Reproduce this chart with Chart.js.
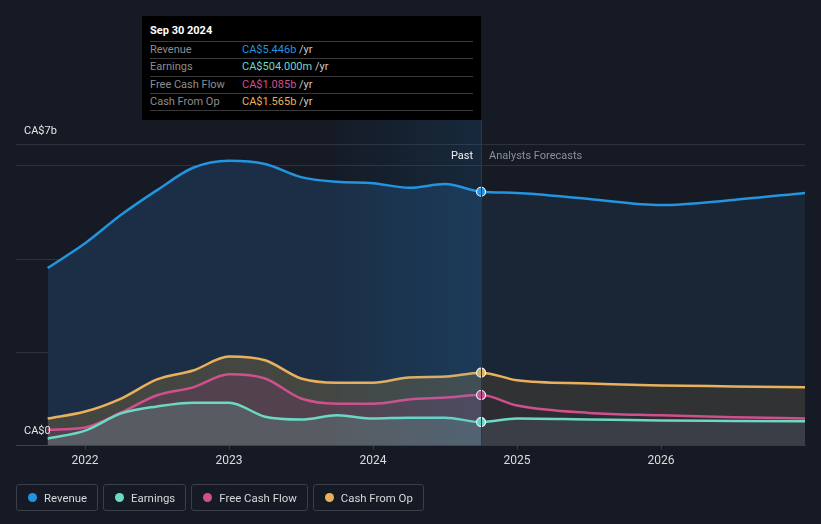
<!DOCTYPE html>
<html>
<head>
<meta charset="utf-8">
<script src="https://cdn.jsdelivr.net/npm/chart.js@4.4.1/dist/chart.umd.min.js"></script>
<style>
    html, body { margin: 0; padding: 0; background: #151a24; }
    body { width: 821px; height: 524px; position: relative; overflow: hidden; font-family: Roboto, "Noto Sans", sans-serif; }
    #chart { position: absolute; left: 0; top: 0; }
    .tip { position: absolute; left: 142px; top: 16px; width: 339px; height: 104px; background: #000; }
    .tip .title { position: absolute; left: 8px; top: 8px; font-size: 11px; font-weight: bold; color: #fff; }
    .tip .row { position: absolute; left: 8px; width: 323px; height: 17px; border-top: 1px solid #3a3a3a; font-size: 11px; line-height: 16px; color: #8d8d8d; }
    .tip .row .v { position: absolute; left: 92px; }
    .tip .row .u { color: #c8c8c8; }
    .tip .last { position: absolute; left: 8px; width: 323px; top: 94px; border-top: 1px solid #3a3a3a; }
    .legend { position: absolute; top: 484px; left: 16px; display: flex; gap: 5px; }
    .legend .item { height: 27px; border: 1px solid #3a3f49; border-radius: 3px; box-sizing: border-box; padding: 0 10px 0 11px; display: flex; align-items: center; font-size: 11.4px; color: #d6d8dc; }
    .legend .dot { width: 9px; height: 9px; border-radius: 50%; margin-right: 7px; }
</style>
</head>
<body>
<canvas id="chart" width="821" height="524"></canvas>

<div class="tip">
    <div class="title">Sep 30 2024</div>
    <div class="row" style="top:25px">Revenue<span class="v"><span style="color:#2394df">CA$5.446b</span> <span class="u">/yr</span></span></div>
    <div class="row" style="top:42px">Earnings<span class="v"><span style="color:#6cd9c5">CA$504.000m</span> <span class="u">/yr</span></span></div>
    <div class="row" style="top:60px">Free Cash Flow<span class="v"><span style="color:#d0508c">CA$1.085b</span> <span class="u">/yr</span></span></div>
    <div class="row" style="top:77px">Cash From Op<span class="v"><span style="color:#e9b15c">CA$1.565b</span> <span class="u">/yr</span></span></div>
    <div class="last"></div>
</div>

<div class="legend">
    <div class="item"><span class="dot" style="background:#2394df"></span>Revenue</div>
    <div class="item"><span class="dot" style="background:#6cd9c5"></span>Earnings</div>
    <div class="item"><span class="dot" style="background:#d0508c"></span>Free Cash Flow</div>
    <div class="item"><span class="dot" style="background:#e9b15c"></span>Cash From Op</div>
</div>

<script>
// fractional years, CA$ billions
const years = [2021.74, 2022.0, 2022.25, 2022.5, 2022.75, 2023.0, 2023.25, 2023.5, 2023.75,
    2024.0, 2024.25, 2024.5, 2024.75, 2025.0, 2025.5, 2026.0, 2026.5, 2027.0];
const revenue = [3.81, 4.34, 4.95, 5.48, 5.96, 6.11, 6.04, 5.76, 5.66,
    5.63, 5.53, 5.61, 5.446, 5.42, 5.29, 5.16, 5.27, 5.42];
const earnings = [0.15, 0.32, 0.69, 0.84, 0.92, 0.92, 0.62, 0.56, 0.65,
    0.58, 0.60, 0.60, 0.504, 0.58, 0.56, 0.54, 0.53, 0.52];
const freeCashFlow = [0.34, 0.39, 0.71, 1.08, 1.25, 1.53, 1.44, 1.01, 0.90,
    0.90, 0.99, 1.03, 1.085, 0.86, 0.70, 0.65, 0.61, 0.58];
const cashFromOp = [0.58, 0.73, 1.01, 1.42, 1.61, 1.91, 1.83, 1.44, 1.35,
    1.35, 1.46, 1.48, 1.565, 1.40, 1.33, 1.29, 1.27, 1.25];
const yearTicks = [2022, 2023, 2024, 2025, 2026];
const yLabels = ["CA$0", "CA$7b"];
const NOW = 2024.75;
const BAND_START = 2023.75;

function toPoints(values) {
    return values.map((v, i) => ({ x: years[i], y: v }));
}

// fill colour that switches from past to forecast at NOW
function splitFill(past, future) {
    return (context) => {
        const chart = context.chart;
        const area = chart.chartArea;
        if (!area || !chart.scales.x) return past;
        const px = chart.scales.x.getPixelForValue(NOW);
        const t = Math.min(1, Math.max(0, (px - area.left) / (area.right - area.left)));
        const g = chart.ctx.createLinearGradient(area.left, 0, area.right, 0);
        g.addColorStop(0, past);
        g.addColorStop(t, past);
        g.addColorStop(t, future);
        g.addColorStop(1, future);
        return g;
    };
}

function series(label, values, color, past, future, order) {
    return {
        label: label,
        data: toPoints(values),
        borderColor: color,
        borderWidth: 2.5,
        backgroundColor: splitFill(past, future),
        fill: "origin",
        cubicInterpolationMode: "monotone",
        order: order,
        pointRadius: (c) => (c.raw && c.raw.x === NOW ? 4.5 : 0),
        pointHoverRadius: 0,
        pointBackgroundColor: color,
        pointBorderColor: "#ffffff",
        pointBorderWidth: 1.2,
    };
}

const overlay = {
    id: "overlay",
    afterDatasetsDraw(chart) {
        const { ctx, chartArea, scales } = chart;
        const x0 = scales.x.getPixelForValue(BAND_START);
        const x1 = scales.x.getPixelForValue(NOW);
        const top = 120;
        const g = ctx.createLinearGradient(x0, 0, x1, 0);
        g.addColorStop(0, "rgba(35,150,230,0.015)");
        g.addColorStop(1, "rgba(35,150,230,0.12)");
        ctx.save();
        ctx.fillStyle = g;
        ctx.fillRect(x0, top, x1 - x0, chartArea.bottom - top);
        ctx.strokeStyle = "#1e3b55";
        ctx.lineWidth = 1;
        ctx.beginPath();
        ctx.moveTo(Math.round(x1) + 0.5, top);
        ctx.lineTo(Math.round(x1) + 0.5, chartArea.bottom);
        ctx.stroke();
        ctx.restore();
    },
    afterDraw(chart) {
        const { ctx, chartArea, scales } = chart;
        const x1 = scales.x.getPixelForValue(NOW);
        ctx.save();
        ctx.font = "11px Roboto, 'Noto Sans', sans-serif";
        ctx.textBaseline = "middle";
        ctx.fillStyle = "#f0f0f0";
        ctx.textAlign = "right";
        ctx.fillText("Past", x1 - 8, chartArea.top + 12);
        ctx.fillStyle = "#8b9099";
        ctx.textAlign = "left";
        ctx.fillText("Analysts Forecasts", x1 + 8, chartArea.top + 12);
        ctx.fillStyle = "#e6e6e6";
        ctx.fillText(yLabels[1], 24, 131);
        ctx.fillText(yLabels[0], 24, 431);
        ctx.restore();
    },
};

const config = {
    type: "line",
    data: {
        datasets: [
            series("Earnings", earnings, "#6cd9c5", "#585c62", "#3a3e47", 1),
            series("Free Cash Flow", freeCashFlow, "#d0508c", "#52424e", "#2d2c32", 2),
            series("Cash From Op", cashFromOp, "#e9b15c", "#444642", "#303234", 3),
            series("Revenue", revenue, "#2394df", "#1b2e45", "#1a2636", 4),
        ],
    },
    plugins: [overlay],
    options: {
        responsive: false,
        animation: false,
        events: [],
        layout: { padding: { left: 16, right: 16, top: 144, bottom: 52 } },
        scales: {
            x: {
                type: "linear",
                min: 2021.52,
                max: 2027.0,
                afterBuildTicks: (scale) => {
                    scale.ticks = yearTicks.map((v) => ({ value: v }));
                },
                ticks: {
                    color: "#dcdcdc",
                    font: { family: "Roboto, 'Noto Sans', sans-serif", size: 12 },
                    padding: 4,
                    autoSkip: false,
                    maxRotation: 0,
                    callback: (v) => String(v),
                },
                grid: { drawOnChartArea: false, drawTicks: true, tickLength: 4, color: "#3c424d" },
                border: { color: "#3c424d", width: 1 },
            },
            y: {
                min: 0,
                max: 6.47,
                ticks: { display: false, stepSize: 2 },
                grid: { color: "#2c313b", drawTicks: false },
                border: { display: false },
            },
        },
        plugins: {
            legend: { display: false },
            tooltip: { enabled: false },
        },
    },
};

new Chart(document.getElementById("chart"), config);
</script>
</body>
</html>
